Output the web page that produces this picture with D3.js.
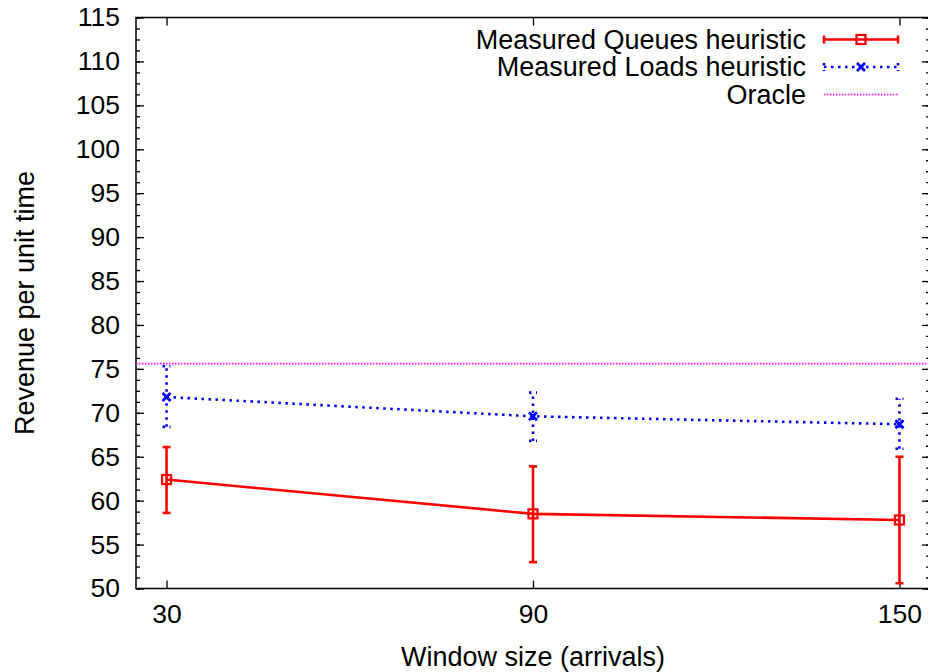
<!DOCTYPE html>
<html>
<head>
<meta charset="utf-8">
<script src="https://cdn.jsdelivr.net/npm/d3@7"></script>
<style>
  body { margin: 0; background: #fff; }
  svg { display: block; font-family: "Liberation Sans", Arial, sans-serif; }
  .tick text { font-size: 26.5px; fill: #000; }
</style>
</head>
<body>
<svg id="chart" width="928" height="672"></svg>
<script>
"use strict";

var windowSizes = [30, 90, 150];

var queuesMean = [62.4, 58.5, 57.8];
var queuesLow  = [58.6, 53.0, 50.6];
var queuesHigh = [66.1, 63.9, 65.0];

var loadsMean = [71.8, 69.6, 68.7];
var loadsLow  = [68.4, 66.8, 65.9];
var loadsHigh = [75.3, 72.3, 71.6];

var oracleValue = 75.6;

var yTicks = d3.range(50, 116, 5);
var yMinorTicks = d3.range(50, 115.01, 1.25);

var margin = {top: 17.5, left: 136, bottom: 83.5, right: -2};
var width = 928, height = 672;

var svg = d3.select('#chart');

var x = d3.scaleLinear().domain([25, 155]).range([margin.left, width - margin.right]);
var y = d3.scaleLinear().domain([50, 115]).range([height - margin.bottom, margin.top]);

var x0 = x.range()[0], x1 = x.range()[1];
var y0 = y.range()[0], y1 = y.range()[1];

// axes: ticks inward, mirrored on the opposite side
var tickAxis = function(axis, pos, size, labels) {
    var g = svg.append('g')
               .attr('transform', pos)
               .call(axis.tickSize(size).tickPadding(16));
    g.select('.domain').remove();
    g.selectAll('.tick line').attr('stroke', '#000').attr('stroke-width', 1.3);
    if (!labels) {
        g.selectAll('.tick text').remove();
    }
    return g;
};

tickAxis(d3.axisLeft(y).tickValues(yTicks), 'translate(' + x0 + ',0)', -8, true);
tickAxis(d3.axisLeft(y).tickValues(yMinorTicks), 'translate(' + x0 + ',0)', -4, false);
tickAxis(d3.axisRight(y).tickValues(yTicks), 'translate(' + x1 + ',0)', -8, false);
tickAxis(d3.axisRight(y).tickValues(yMinorTicks), 'translate(' + x1 + ',0)', -4, false);
tickAxis(d3.axisBottom(x).tickValues(windowSizes), 'translate(0,' + y0 + ')', -8, true);
tickAxis(d3.axisTop(x).tickValues(windowSizes), 'translate(0,' + y1 + ')', -8, false);

svg.append('rect')
   .attr('x', x0).attr('y', y1)
   .attr('width', x1 - x0).attr('height', y0 - y1)
   .attr('fill', 'none')
   .attr('stroke', '#000')
   .attr('stroke-width', 1.5);

// axis titles
svg.append('text')
   .attr('x', (x0 + x1) / 2)
   .attr('y', 666)
   .attr('text-anchor', 'middle')
   .attr('font-size', 27)
   .text('Window size (arrivals)');

svg.append('text')
   .attr('transform', 'translate(34,' + ((y0 + y1) / 2) + ') rotate(-90)')
   .attr('text-anchor', 'middle')
   .attr('font-size', 27)
   .text('Revenue per unit time');

// oracle line
svg.append('line')
   .attr('x1', x0).attr('x2', x1)
   .attr('y1', y(oracleValue)).attr('y2', y(oracleValue))
   .attr('stroke', '#ff00ff')
   .attr('stroke-width', 1.7)
   .attr('stroke-dasharray', '1.5,1.5');

var drawSeries = function(mean, low, high, color, dash, marker) {
    var g = svg.append('g');
    var pts = windowSizes.map(function(w, i) {
        return {x: w, m: mean[i], lo: low[i], hi: high[i]};
    });
    var line = d3.line().x(function(d) { return x(d.x); }).y(function(d) { return y(d.m); });

    g.append('path')
       .datum(pts)
       .attr('d', line)
       .attr('fill', 'none')
       .attr('stroke', color)
       .attr('stroke-width', 2.6)
       .attr('stroke-dasharray', dash);

    var bars = g.selectAll('.errbar').data(pts).enter().append('g').attr('class', 'errbar');
    bars.append('line')
        .attr('x1', function(d) { return x(d.x); })
        .attr('x2', function(d) { return x(d.x); })
        .attr('y1', function(d) { return y(d.lo); })
        .attr('y2', function(d) { return y(d.hi); });
    bars.append('line')
        .attr('x1', function(d) { return x(d.x) - 4; })
        .attr('x2', function(d) { return x(d.x) + 4; })
        .attr('y1', function(d) { return y(d.lo); })
        .attr('y2', function(d) { return y(d.lo); });
    bars.append('line')
        .attr('x1', function(d) { return x(d.x) - 4; })
        .attr('x2', function(d) { return x(d.x) + 4; })
        .attr('y1', function(d) { return y(d.hi); })
        .attr('y2', function(d) { return y(d.hi); });
    bars.selectAll('line')
        .attr('stroke', color)
        .attr('stroke-width', 2.6)
        .attr('stroke-dasharray', dash);

    pts.forEach(function(d) {
        marker(g, x(d.x), y(d.m));
    });
};

var squareMarker = function(g, cx, cy) {
    g.append('rect')
     .attr('x', cx - 4.5).attr('y', cy - 4.5)
     .attr('width', 9).attr('height', 9)
     .attr('fill', 'none')
     .attr('stroke', '#ff0000')
     .attr('stroke-width', 2.2);
};

var crossMarker = function(g, cx, cy) {
    g.append('path')
     .attr('d', 'M' + (cx - 4) + ',' + (cy - 4) + 'L' + (cx + 4) + ',' + (cy + 4) +
                'M' + (cx - 4) + ',' + (cy + 4) + 'L' + (cx + 4) + ',' + (cy - 4))
     .attr('stroke', '#0000ff')
     .attr('stroke-width', 2.8);
};

drawSeries(queuesMean, queuesLow, queuesHigh, '#ff0000', null, squareMarker);
drawSeries(loadsMean, loadsLow, loadsHigh, '#0000ff', '2.5,4.5', crossMarker);

// legend
var legendItems = [
    {label: 'Measured Queues heuristic', color: '#ff0000', dash: null, marker: squareMarker, caps: true, width: 2.6},
    {label: 'Measured Loads heuristic', color: '#0000ff', dash: '2.5,4.5', marker: crossMarker, caps: true, width: 2.6},
    {label: 'Oracle', color: '#ff00ff', dash: '1.5,1.5', marker: null, caps: false, width: 1.7}
];

var legend = svg.append('g');
var rows = legend.selectAll('.legend-item').data(legendItems).enter()
                 .append('g')
                     .attr('class', 'legend-item')
                     .attr('transform', function(d, i) { return 'translate(0,' + (39.5 + i * 27.5) + ')'; });

rows.append('text')
    .attr('x', 806)
    .attr('dy', '0.35em')
    .attr('text-anchor', 'end')
    .attr('font-size', 27)
    .text(function(d) { return d.label; });

rows.append('line')
    .attr('x1', 824).attr('x2', 898)
    .attr('stroke', function(d) { return d.color; })
    .attr('stroke-width', function(d) { return d.width; })
    .attr('stroke-dasharray', function(d) { return d.dash; });

rows.each(function(d) {
    var row = d3.select(this);
    if (d.caps) {
        [824, 898].forEach(function(cx) {
            row.append('line')
               .attr('x1', cx).attr('x2', cx)
               .attr('y1', -4).attr('y2', 4)
               .attr('stroke', d.color)
               .attr('stroke-width', d.width)
               .attr('stroke-dasharray', d.dash);
        });
    }
    if (d.marker) {
        d.marker(row, 861, 0);
    }
});
</script>
</body>
</html>
